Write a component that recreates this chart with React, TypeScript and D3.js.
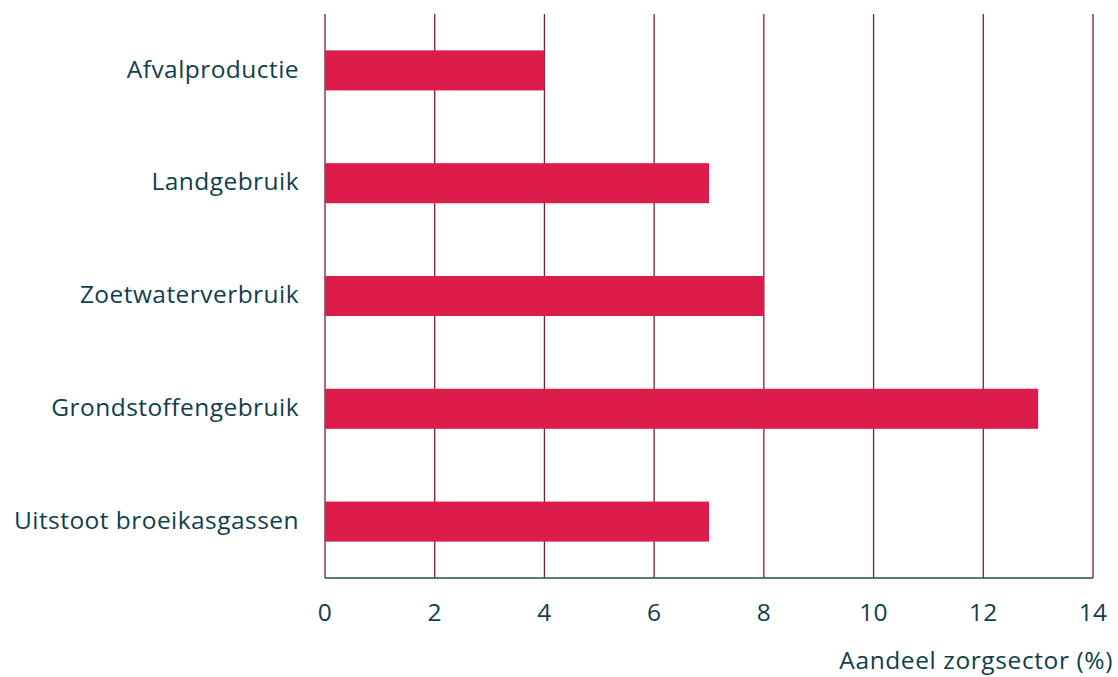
import React from "react";
import * as d3 from "d3";

const categories = [
  "Afvalproductie",
  "Landgebruik",
  "Zoetwaterverbruik",
  "Grondstoffengebruik",
  "Uitstoot broeikasgassen",
];
const values = [4, 7, 8, 13, 7];
const xTicks = [0, 2, 4, 6, 8, 10, 12, 14];
const xTitle = "Aandeel zorgsector (%)";

const W = 1118;
const H = 677;
const FONT = "'Open Sans', sans-serif";
const TEXT = "#0f3f4b";
const GRID = "#7d1f2e";
const BAR = "#dc1c4b";
const FS = 24.5;

export default function App() {
  const x = d3.scaleLinear().domain([0, 14]).range([325, 1093]);
  const y = d3
    .scaleBand<string>()
    .domain(categories)
    .range([14, 578])
    .paddingInner(0.645)
    .paddingOuter(0.3225);

  return (
    <svg
      width={W}
      height={H}
      style={{ position: "absolute", left: 0, top: 0, background: "#fff" }}
      fontFamily={FONT}
    >
      {xTicks.map((t) => (
        <line
          key={"g" + t}
          x1={x(t)}
          x2={x(t)}
          y1={14}
          y2={578}
          stroke={GRID}
          strokeWidth={1.3}
        />
      ))}
      {categories.map((c, i) => (
        <rect
          key={c}
          x={x(0)}
          y={y(c)}
          width={x(values[i]) - x(0)}
          height={y.bandwidth()}
          fill={BAR}
        />
      ))}
      <line x1={x(0)} x2={x(14)} y1={578} y2={578} stroke="#1e4f5a" strokeWidth={1.5} />
      {xTicks.map((t) => (
        <text
          key={"t" + t}
          x={x(t)}
          y={621}
          textAnchor="middle"
          fontSize={FS}
          fill={TEXT}
          letterSpacing={0.3}
        >
          {t}
        </text>
      ))}
      {categories.map((c) => (
        <text
          key={"l" + c}
          x={299}
          y={(y(c) ?? 0) + y.bandwidth() / 2}
          dy="0.29em"
          textAnchor="end"
          fontSize={FS}
          fill={TEXT}
          letterSpacing={0.45}
        >
          {c}
        </text>
      ))}
      <text x={1113} y={669} textAnchor="end" fontSize={FS} fill={TEXT} letterSpacing={0.6}>
        {xTitle}
      </text>
    </svg>
  );
}
